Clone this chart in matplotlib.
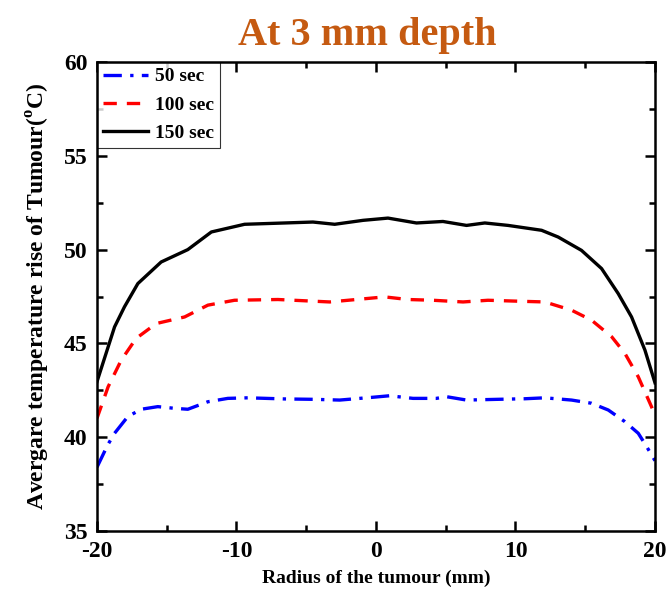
import matplotlib
matplotlib.use('Agg')
import matplotlib.pyplot as plt
from matplotlib.ticker import MultipleLocator

plt.rcParams['font.family'] = ['Liberation Serif', 'DejaVu Serif']
plt.rcParams['font.weight'] = 'bold'
plt.rcParams['mathtext.fontset'] = 'custom'
plt.rcParams['mathtext.rm'] = 'Liberation Serif:bold'
plt.rcParams['axes.unicode_minus'] = False

# values
x_50 = [-20, -19.23, -18.74, -17.79, -16.83, -15.64, -14.44, -13.49, -12.05, -10.62, -9.18,
        -6.55, -4.52, -2.6, -0.21, 0.98, 2.65, 4.33, 5.05, 6.49, 8.75, 10.67, 12.1,
        14.02, 15.45, 16.65, 17.84, 18.8, 19.4, 20]
t_50 = [38.4, 39.59, 40.21, 41.1, 41.49, 41.63, 41.54, 41.49, 41.89, 42.07, 42.1,
        42.04, 42.02, 41.98, 42.13, 42.21, 42.07, 42.07, 42.16, 41.98, 42.02, 42.05, 42.1,
        41.98, 41.81, 41.45, 40.83, 40.21, 39.5, 38.75]

x_100 = [-20, -19.2, -18.26, -17.19, -15.75, -13.72, -12.05, -10.14, -7.03, -3.32,
         -1.41, 0.62, 2.29, 4.09, 6.24, 8.03, 10.19, 12.1, 14.02, 15.45, 16.9, 17.84,
         18.8, 19.64, 20]
t_100 = [41.01, 42.69, 44.11, 45.27, 46.06, 46.41, 47.04, 47.3, 47.34, 47.21,
         47.34, 47.48, 47.34, 47.3, 47.21, 47.3, 47.25, 47.21, 46.77, 46.24, 45.35, 44.47,
         43.22, 41.81, 41.2]

x_150 = [-20, -18.74, -18.03, -17.07, -15.4, -13.49, -11.8, -9.42, -6.55, -4.52, -2.96,
         -0.93, 0.86, 2.9, 4.8, 6.49, 7.8, 9.47, 11.87, 13.06, 14.73, 16.17, 17.36,
         18.32, 19.28, 20]
t_150 = [42.96, 45.88, 46.95, 48.19, 49.34, 50.0, 50.94, 51.35, 51.42, 51.47, 51.35,
         51.56, 51.68, 51.42, 51.5, 51.29, 51.42, 51.29, 51.03, 50.67, 49.96, 48.99, 47.66,
         46.41, 44.64, 42.9]

fig = plt.figure(figsize=(6.67, 6.05), dpi=100)
ax = fig.add_axes([0.1454, 0.1223, 0.8366, 0.7752])

ax.plot(x_50, t_50, color='blue', lw=2.4, linestyle=(0, (5.5, 2.5, 1, 2.5)), label='50 sec')
ax.plot(x_100, t_100, color='red', lw=2.4, linestyle=(0, (4, 3)), label='100 sec')
ax.plot(x_150, t_150, color='black', lw=2.4, label='150 sec')

ax.set_xlim(-20, 20)
ax.set_ylim(35, 60)
ax.xaxis.set_major_locator(MultipleLocator(10))
ax.xaxis.set_minor_locator(MultipleLocator(5))
ax.yaxis.set_major_locator(MultipleLocator(5))
ax.yaxis.set_minor_locator(MultipleLocator(2.5))
ax.tick_params(which='both', direction='in', top=True, right=True, width=1.8, labelsize=17)
ax.tick_params(which='major', length=7, pad=7)
ax.tick_params(which='minor', length=4)
for s in ax.spines.values():
    s.set_linewidth(1.8)

ax.set_xlabel('Radius of the tumour (mm)', fontsize=14, fontweight='bold', labelpad=6)
ax.set_ylabel('Avergare temperature rise of Tumour($^{\\rm o}$C)', fontsize=17,
              fontweight='bold', labelpad=8)
ax.set_title('At 3 mm depth', fontsize=29, fontweight='bold', color='#C55A11', pad=12, x=0.485)

leg = ax.legend(loc='upper left', fontsize=14, frameon=True, fancybox=False,
                borderaxespad=0, handlelength=2.3, handletextpad=0.4,
                borderpad=0.3, labelspacing=0.55)
leg.get_frame().set_edgecolor('black')
leg.get_frame().set_linewidth(0.8)
leg.set_zorder(2)

fig.savefig('out.png', dpi=100)
